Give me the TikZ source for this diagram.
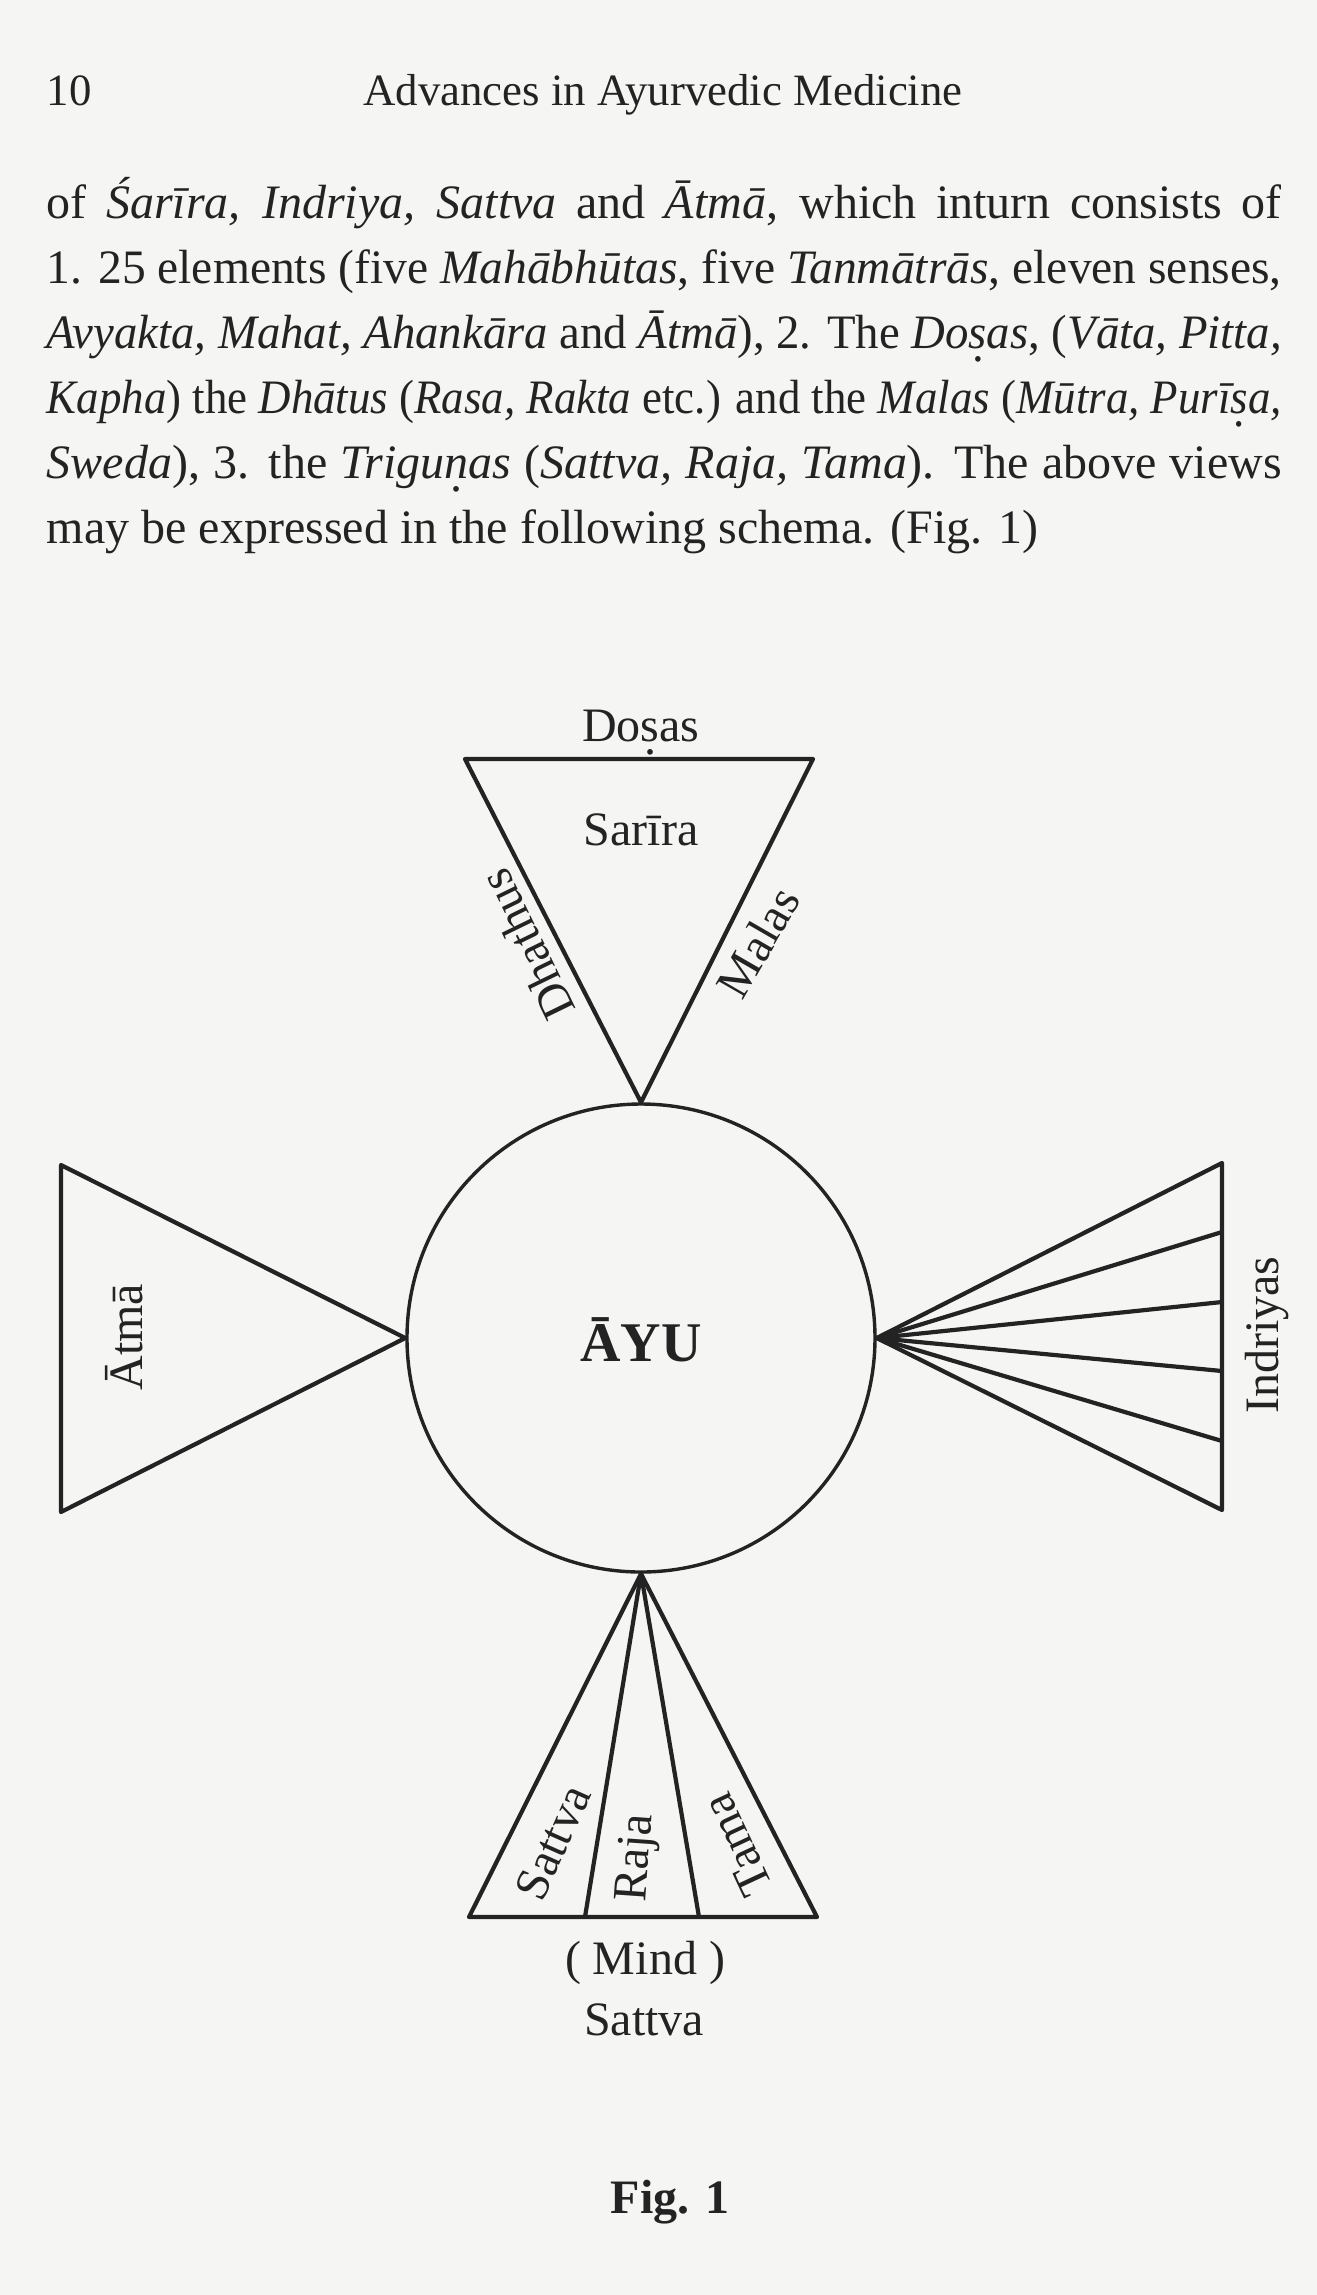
\documentclass[tikz,border=0pt]{standalone}
\usepackage{fontspec}
\setmainfont{Liberation Serif}
\usepackage{graphicx}
\definecolor{paper}{RGB}{245,245,243}
\definecolor{ink}{RGB}{35,35,35}
\newlength\linew \setlength\linew{308.75pt}
\newcommand\udot[1]{\ooalign{#1\crcr\hidewidth\raisebox{-0.62ex}{\upshape.}\hidewidth}}
\newcommand\jline[1]{{\spaceskip=0.25em plus 0.6em minus 0.11em\relax
  \sbox0{#1}\ifdim\wd0>\linew\resizebox{\linew}{\height}{#1}\else\makebox[\linew][s]{#1}\fi}}
\begin{document}
\begin{tikzpicture}[x=0.25pt,y=-0.25pt,
  every node/.style={inner sep=0pt, text=ink},
  line/.style={draw=ink, line width=1.05pt, line join=round},
  body/.style={anchor=base west, font=\fontsize{12}{14}\selectfont},
  lbl/.style={font=\fontsize{12}{14}\selectfont},
  head/.style={font=\fontsize{11.2}{13}\selectfont}]
\fill[paper] (0,0) rectangle (1317,2295);
\useasboundingbox (0,0) rectangle (1317,2295);

% running head
\node[head, anchor=base west] (pg) at (46,105) {10};
\node[head, anchor=base] (rh) at (663,105) {Advances in Ayurvedic Medicine};

% paragraph
\node[body] (l1) at (46,218) {\jline{of \textit{Śarīra, Indriya, Sattva} and \textit{Ātmā}, which inturn consists of}};
\node[body] (l2) at (46,283) {\jline{1. 25 elements (five \textit{Mahābhūtas}, five \textit{Tanmātrās}, eleven senses,}};
\node[body] (l3) at (46,348) {\jline{\textit{Avyakta, Mahat, Ahankāra} and \textit{Ātmā}), 2. The \textit{Do\udot{s}as}, (\textit{Vāta, Pitta,}}};
\node[body] (l4) at (46,413) {\jline{\textit{Kapha}) the \textit{Dhātus} (\textit{Rasa, Rakta} etc.) and the \textit{Malas} (\textit{Mūtra, Purī\udot{s}a,}}};
\node[body] (l5) at (46,478) {\jline{\textit{Sweda}), 3. the \textit{Trigu\udot{n}as} (\textit{Sattva, Raja, Tama}). The above views}};
\node[body] (l6) at (46,543) {may be expressed in the following schema. (Fig. 1)};

% central circle
\node[circle, draw=ink, line width=0.85pt, minimum size=117pt, inner sep=0pt] (ayu) at (641,1338) {};
\node[font=\bfseries\fontsize{14}{16}\selectfont] (ayut) at (641,1340) {ĀYU};

% top triangle (Sarira)
\coordinate (tA) at (ayu.north);
\coordinate (tL) at (465,759);
\coordinate (tR) at (813,759);
\draw[line] (tL) -- (tR) -- (tA) -- cycle;
\node[lbl, anchor=base] (dosas) at (641,741) {Do\udot{s}as};
\node[lbl, anchor=base] (sarira) at (641,845) {Sarīra};
\node[lbl, rotate=116] (dhathus) at (527,945) {Dhathus};
\node[lbl, rotate=60] (malas) at (758,942) {Malas};

% left triangle (Atma)
\coordinate (lA) at (ayu.west);
\coordinate (lT) at (61,1165);
\coordinate (lB) at (61,1512);
\draw[line] (lT) -- (lA) -- (lB) -- cycle;
\node[lbl, rotate=90] (atma) at (124,1337) {Ātmā};

% right fan (Indriyas)
\coordinate (rA) at (ayu.east);
\coordinate (rT) at (1222,1163);
\coordinate (r1) at (1222,1232);
\coordinate (r2) at (1222,1302);
\coordinate (r3) at (1222,1371);
\coordinate (r4) at (1222,1441);
\coordinate (rB) at (1222,1510);
\draw[line] (rT) -- (rA) -- (rB) -- cycle;
\foreach \p in {r1,r2,r3,r4} \draw[line] (rA) -- (\p);
\node[lbl, rotate=90] (indriyas) at (1267,1335) {Indriyas};

% bottom triangle (Mind)
\coordinate (bA) at (ayu.south);
\coordinate (bL) at (469,1917);
\coordinate (b1) at (585,1917);
\coordinate (b2) at (699,1917);
\coordinate (bR) at (817,1917);
\draw[line] (bL) -- (bA) -- (bR) -- cycle;
\draw[line] (bA) -- (b1);
\draw[line] (bA) -- (b2);
\node[lbl, rotate=66] (sattvaR) at (553,1842) {Sattva};
\node[lbl, rotate=86] (raja) at (638,1858) {Raja};
\node[lbl, rotate=115] (tama) at (737,1845) {Tama};
\node[lbl, anchor=base] (mind) at (645,1974) {( Mind )};
\node[lbl, anchor=base] (sattva) at (644,2035) {Sattva};

\node[font=\bfseries\fontsize{12}{14}\selectfont, anchor=base] (fig) at (670,2213) {Fig. 1};
\end{tikzpicture}
\end{document}
